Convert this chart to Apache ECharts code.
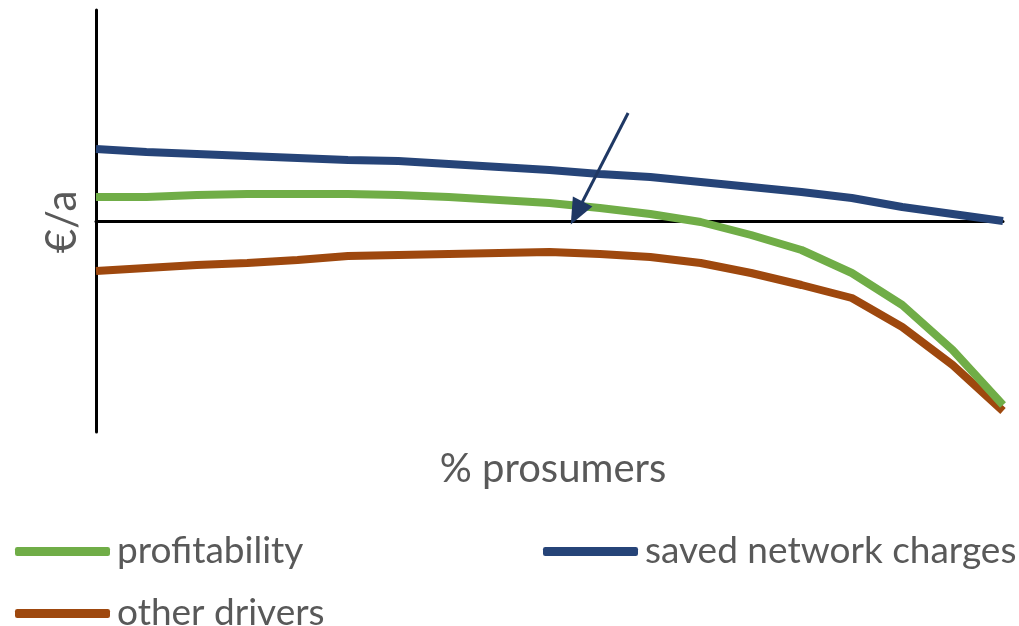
<!DOCTYPE html>
<html><head><meta charset="utf-8">
<script src="https://cdn.jsdelivr.net/npm/echarts@6/dist/echarts.min.js"></script>
<style>html,body{margin:0;padding:0;background:#fff}#c{width:1019px;height:626px}</style>
</head><body><div id="c"></div>
<script>
// x: step index along "% prosumers" (no tick labels in the original)
const steps = [0,1,2,3,4,5,6,7,8,9,10,11,12,13,14,15,16,17,18];
const profitability = [24,24,26,27,27,27,26,24,21,18,13,7,-1,-14,-29,-52,-84,-129,-184];
const savedNetworkCharges = [72,69,67,65,63,61,60,57,54,51,47,44,39,34,29,23,14,7,0];
const otherDrivers = [-50,-47,-44,-42,-39,-35,-34,-33,-32,-31,-33,-36,-42,-52,-64,-77,-106,-144,-190];
const arrowFrom = [10.56,108];
const arrowTo = [9.54,8];

const pair = arr => steps.map((s,i)=>[s,arr[i]]);
const font = 'Lato, "Liberation Sans", sans-serif';
const gray = '#595959';
const chart = echarts.init(document.getElementById('c'));
const lg = {icon:'roundRect',itemWidth:95,itemHeight:9,textStyle:{fontFamily:font,fontSize:37,color:gray,padding:[0,0,0,2]}};
chart.setOption({
  animation:false,
  grid:{left:96,right:16,top:10,bottom:194},
  title:[
    {text:'% prosumers',left:548,top:444,textAlign:'center',textStyle:{fontFamily:font,fontSize:40,fontWeight:'normal',color:gray}},
  ],
  graphic:[{type:'text',x:62,y:222,rotation:Math.PI/2,style:{text:'€/a',font:'42px '+font,fill:gray,align:'center',verticalAlign:'middle'}}],
  legend:[
    Object.assign({data:['profitability'],left:10,top:528},lg),
    Object.assign({data:['saved network charges'],left:538,top:528},lg),
    Object.assign({data:['other drivers'],left:10,top:590},lg)
  ],
  xAxis:{type:'value',min:0,max:18,axisLine:{onZero:true,lineStyle:{color:'#000',width:3}},axisTick:{show:false},axisLabel:{show:false},splitLine:{show:false}},
  yAxis:{type:'value',min:-211,max:211,axisLine:{show:true,lineStyle:{color:'#000',width:3}},axisTick:{show:false},axisLabel:{show:false},splitLine:{show:false}},
  series:[
    {name:'profitability',type:'line',data:pair(profitability),showSymbol:false,lineStyle:{color:'#70ad47',width:8},itemStyle:{color:'#70ad47'},z:3},
    {name:'saved network charges',type:'line',data:pair(savedNetworkCharges),showSymbol:false,lineStyle:{color:'#264478',width:8},itemStyle:{color:'#264478'},z:3,
      markLine:{silent:true,symbol:['none','triangle'],symbolSize:[22,26],label:{show:false},lineStyle:{color:'#1f3864',width:3,type:'solid'},
        data:[[{coord:arrowFrom},{coord:arrowTo}]]}},
    {name:'other drivers',type:'line',data:pair(otherDrivers),showSymbol:false,lineStyle:{color:'#9e480e',width:8},itemStyle:{color:'#9e480e'},z:2}
  ]
});
</script></body></html>
